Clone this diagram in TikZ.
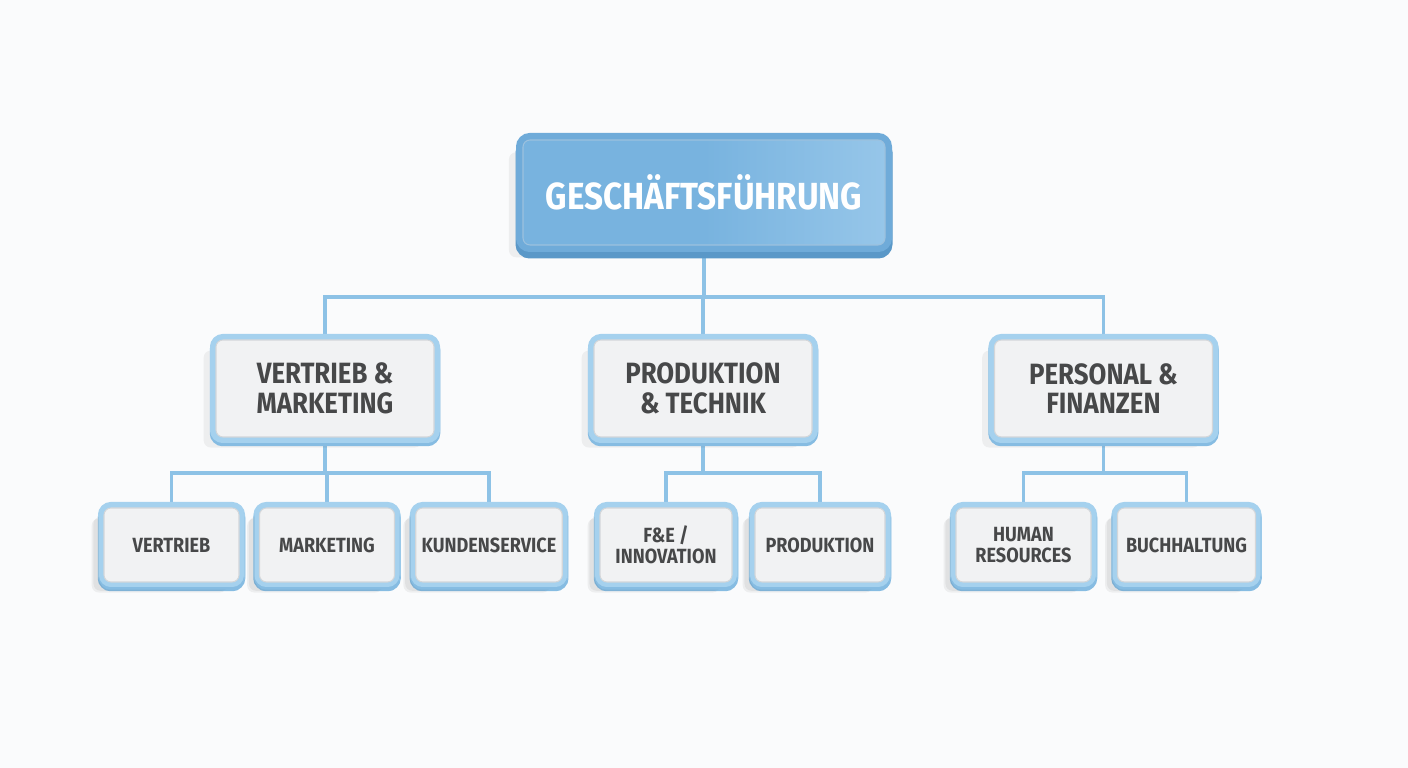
\documentclass[tikz,border=0pt]{standalone}
\usepackage{fontspec}
\newfontfamily\orgfont[FakeStretch=0.88]{Fira Sans}
\usetikzlibrary{positioning,backgrounds}

\definecolor{paper}{HTML}{FAFBFC}
\definecolor{frameblue}{HTML}{A5D1EE}
\definecolor{frameedge}{HTML}{86BCE2}
\definecolor{facegray}{HTML}{F1F2F3}
\definecolor{faceedge}{HTML}{D3D6D9}
\definecolor{headface}{HTML}{78B3DF}
\definecolor{headgloss}{HTML}{96C6E9}
\definecolor{headframe}{HTML}{6FABD9}
\definecolor{headedge}{HTML}{5A98C8}
\definecolor{linkblue}{HTML}{8DC2E6}
\definecolor{textgray}{HTML}{474849}

\begin{document}
\begin{tikzpicture}[
    head/.style={rectangle, rounded corners=4pt, align=center, minimum width=7.24cm, minimum height=2.1cm,
        draw=headedge!60, line width=0.6pt, left color=headface, right color=headgloss, middle color=headface,
        text=white, font=\orgfont\bfseries\fontsize{21.5}{25}\selectfont,
        preaction={transform canvas={xshift=-8pt,yshift=-7pt}, fill=black, fill opacity=0.05, draw=none},
        preaction={transform canvas={xshift=-4pt,yshift=-4pt}, fill=black, fill opacity=0.04, draw=none},
        preaction={transform canvas={yshift=-0.12cm}, draw=headedge, line width=0.3cm},
        preaction={draw=headframe, line width=0.28cm}},
    dept/.style={rectangle, rounded corners=4pt, align=center, minimum width=4.36cm, minimum height=1.94cm,
        draw=faceedge, line width=0.6pt, fill=facegray, text=textgray,
        font=\orgfont\bfseries\fontsize{16.7}{16.7}\selectfont,
        preaction={transform canvas={xshift=-7pt,yshift=-6pt}, fill=black, fill opacity=0.05, draw=none},
        preaction={transform canvas={xshift=-3pt,yshift=-3pt}, fill=black, fill opacity=0.04, draw=none},
        preaction={transform canvas={yshift=-0.06cm}, draw=frameedge, line width=0.25cm},
        preaction={draw=frameblue, line width=0.24cm}},
    team/.style={dept, minimum width=2.7cm, minimum height=1.48cm,
        font=\orgfont\bfseries\fontsize{11.7}{12.2}\selectfont,
        preaction={transform canvas={xshift=-6pt,yshift=-5pt}, fill=black, fill opacity=0.05, draw=none},
        preaction={transform canvas={xshift=-3pt,yshift=-3pt}, fill=black, fill opacity=0.04, draw=none},
        preaction={transform canvas={yshift=-0.05cm}, draw=frameedge, line width=0.21cm},
        preaction={draw=frameblue, line width=0.2cm}},
    link/.style={draw=linkblue, line width=1.8pt}
]
    \useasboundingbox (0,0) rectangle (28.16,15.36);

    % --- MANAGEMENT ---
    \node[head] (Board) at (14.08, 11.51) {GESCHÄFTSFÜHRUNG};

    % --- DEPARTMENTS ---
    \node[dept] (Sales) at (6.50, 7.59) {VERTRIEB \&\\MARKETING};
    \node[dept] (Production) at (14.06, 7.59) {PRODUKTION\\\& TECHNIK};
    \node[dept] (Finance) at (22.07, 7.59) {PERSONAL \&\\FINANZEN};

    % --- TEAMS ---
    \node[team] (SalesTeam) at (3.43, 4.46) {VERTRIEB};
    \node[team] (MarketingTeam) at (6.54, 4.46) {MARKETING};
    \node[team, minimum width=2.88cm] (CustomerService) at (9.78, 4.46) {KUNDENSERVICE};
    \node[team, minimum width=2.64cm] (RnD) at (13.32, 4.46) {F\&E /\\INNOVATION};
    \node[team, minimum width=2.6cm] (Manufacturing) at (16.40, 4.46) {PRODUKTION};
    \node[team] (HR) at (20.47, 4.46) {HUMAN\\RESOURCES};
    \node[team, minimum width=2.76cm] (Accounting) at (23.73, 4.46) {BUCHHALTUNG};

    % ================= CONNECTIONS =================
    \begin{scope}[on background layer]
        \fill[paper] (0,0) rectangle (28.16,15.36);

        % Management to departments
        \coordinate (BoardHub) at (14.08, 9.42);
        \draw[link] (Board.south) -- (BoardHub);
        \draw[link] (BoardHub) -| (Sales.north);
        \draw[link] (BoardHub) -| (Production.north);
        \draw[link] (BoardHub) -| (Finance.north);

        % Departments to teams
        \coordinate (SalesHub) at (6.50, 5.90);
        \draw[link] (Sales.south) -- (SalesHub);
        \draw[link] (SalesHub) -| (SalesTeam.north);
        \draw[link] (SalesHub) -| (MarketingTeam.north);
        \draw[link] (SalesHub) -| (CustomerService.north);

        \coordinate (ProductionHub) at (14.06, 5.90);
        \draw[link] (Production.south) -- (ProductionHub);
        \draw[link] (ProductionHub) -| (RnD.north);
        \draw[link] (ProductionHub) -| (Manufacturing.north);

        \coordinate (FinanceHub) at (22.07, 5.90);
        \draw[link] (Finance.south) -- (FinanceHub);
        \draw[link] (FinanceHub) -| (HR.north);
        \draw[link] (FinanceHub) -| (Accounting.north);
    \end{scope}

\end{tikzpicture}
\end{document}
